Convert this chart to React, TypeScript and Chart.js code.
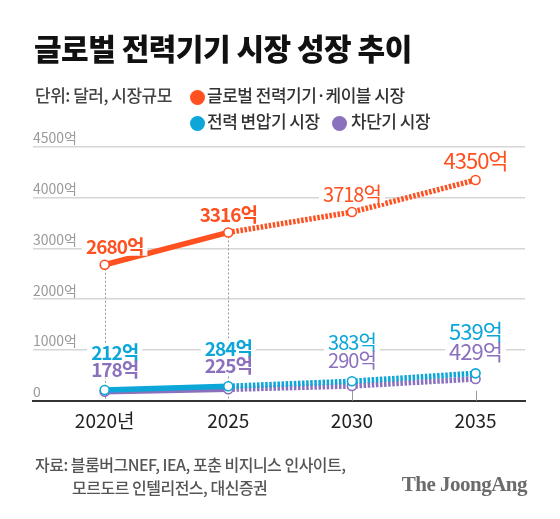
import React, { useEffect, useRef } from 'react';
import { Chart, registerables } from 'chart.js';

Chart.register(...registerables);

// ---- data ----
const years = [2020, 2025, 2030, 2035];
const yearLabels = ['2020년', '2025', '2030', '2035'];
const globalMarket = [2680, 3316, 3718, 4350];
const transformerMarket = [212, 284, 383, 539];
const breakerMarket = [178, 225, 290, 429];
const yTickValues = [0, 1000, 2000, 3000, 4000, 5000];
const yTickLabels = ['0', '1000억', '2000억', '3000억', '4000억', '4500억'];
const lastActualYear = 2025;
const seriesNames = ['글로벌 전력기기·케이블 시장', '전력 변압기 시장', '차단기 시장'];
const seriesColors = ['#ff5020', '#0ca6d8', '#8a70bd'];
const unitText = '단위: 달러, 시장규모';
const titleText = '글로벌 전력기기 시장 성장 추이';
const sourceLines = ['자료: 블룸버그NEF, IEA, 포춘 비지니스 인사이트,', '모르도르 인텔리전스, 대신증권'];
const logoText = 'The JoongAng';

const FONT = '"Noto Sans CJK KR", "Noto Sans", sans-serif';

function labelStyle(i: number) {
  if (years[i] <= lastActualYear) return { size: 19, weight: 700 };
  if (i === years.length - 1) return { size: 22, weight: 400 };
  return { size: 20, weight: 400 };
}

const overlayPlugin = {
  id: 'overlay',
  beforeDatasetsDraw(chart: any) {
    const { ctx, scales } = chart;
    const x = scales.x;
    const y = scales.y;
    const base = y.getPixelForValue(0);
    ctx.save();
    ctx.strokeStyle = '#9a9a9a';
    ctx.lineWidth = 1;
    years.forEach((yr, i) => {
      const px = Math.round(x.getPixelForValue(yr)) + 0.5;
      ctx.beginPath();
      if (yr <= lastActualYear) {
        ctx.setLineDash([2, 2]);
        ctx.moveTo(px, y.getPixelForValue(globalMarket[i]));
      } else {
        ctx.setLineDash([]);
        ctx.moveTo(px, base - 10);
      }
      ctx.lineTo(px, base);
      ctx.stroke();
    });
    ctx.restore();
  },
  afterDatasetsDraw(chart: any) {
    const { ctx, scales } = chart;
    const x = scales.x;
    const y = scales.y;
    type Lbl = { text: string; cx: number; cy: number; color: string; size: number; weight: number };
    const labels: Lbl[] = [];
    years.forEach((yr, i) => {
      const { size, weight } = labelStyle(i);
      const shift = i === 0 ? 10 : 0;
      const px = x.getPixelForValue(yr) + shift;
      const gY = y.getPixelForValue(globalMarket[i]);
      labels.push({ text: `${globalMarket[i]}억`, cx: px, cy: gY - 8 - size * 0.5, color: seriesColors[0], size, weight });
      const tY = y.getPixelForValue(transformerMarket[i]);
      const pCy = tY - 9 - size * 0.6;
      const tCy = pCy - size * 0.88;
      labels.push({ text: `${transformerMarket[i]}억`, cx: px, cy: tCy, color: seriesColors[1], size, weight });
      labels.push({ text: `${breakerMarket[i]}억`, cx: px, cy: pCy, color: seriesColors[2], size, weight });
    });
    ctx.save();
    (ctx as any).letterSpacing = '-1px';
    ctx.textAlign = 'center';
    ctx.textBaseline = 'middle';
    labels.forEach((l) => {
      ctx.font = `${l.weight} ${l.size}px ${FONT}`;
      const w = ctx.measureText(l.text).width;
      ctx.fillStyle = '#ffffff';
      ctx.fillRect(l.cx - w / 2 - 4, l.cy - l.size * 0.45, w + 8, l.size * 0.9);
    });
    labels.forEach((l) => {
      ctx.font = `${l.weight} ${l.size}px ${FONT}`;
      ctx.fillStyle = l.color;
      ctx.fillText(l.text, l.cx, l.cy);
    });
    ctx.restore();
  },
};

function makeDataset(values: number[], color: string, name: string) {
  return {
    label: name,
    data: years.map((yr, i) => ({ x: yr, y: values[i] })),
    borderColor: color,
    backgroundColor: color,
    borderWidth: 5.5,
    borderCapStyle: 'butt' as const,
    pointRadius: 4.5,
    pointBorderWidth: 1.6,
    pointBackgroundColor: '#ffffff',
    pointBorderColor: color,
    tension: 0,
    segment: {
      borderDash: (c: any) => (c.p0.parsed.x >= lastActualYear ? [2.5, 1.6] : undefined),
    },
  };
}

export default function App() {
  const canvasRef = useRef<HTMLCanvasElement | null>(null);

  useEffect(() => {
    if (!canvasRef.current) return;
    const chart = new Chart(canvasRef.current, {
      type: 'line',
      data: {
        datasets: [
          makeDataset(globalMarket, seriesColors[0], seriesNames[0]),
          makeDataset(transformerMarket, seriesColors[1], seriesNames[1]),
          makeDataset(breakerMarket, seriesColors[2], seriesNames[2]),
        ],
      },
      options: {
        animation: false,
        responsive: false,
        layout: { padding: { left: 33, right: 35, top: 147, bottom: 78.3 } },
        plugins: { legend: { display: false }, tooltip: { enabled: false } },
        scales: {
          x: {
            type: 'linear',
            min: 2017.1,
            max: 2037.0,
            afterBuildTicks: (s: any) => {
              s.ticks = years.map((v) => ({ value: v }));
            },
            afterFit: (s: any) => {
              s.height = 40;
            },
            grid: { display: false, drawTicks: false },
            border: { display: true, color: '#333333', width: 2 },
            ticks: {
              autoSkip: false,
              maxRotation: 0,
              padding: 9,
              color: '#222222',
              font: { family: FONT, size: 19, weight: 400 as any },
              callback: (v: any) => yearLabels[years.indexOf(Number(v))] ?? '',
            },
          },
          y: {
            type: 'linear',
            min: 0,
            max: 5000,
            afterBuildTicks: (s: any) => {
              s.ticks = yTickValues.map((v) => ({ value: v }));
            },
            afterFit: (s: any) => {
              s.width = 0;
            },
            grid: {
              drawTicks: false,
              lineWidth: 1.5,
              color: (c: any) => (c.tick && c.tick.value === 0 ? 'rgba(0,0,0,0)' : '#d6d6d6'),
            },
            border: { display: false },
            ticks: {
              mirror: true,
              padding: 0,
              labelOffset: -9,
              color: '#9a9a9a',
              font: { family: FONT, size: 14, weight: 400 as any },
              callback: (v: any) => yTickLabels[yTickValues.indexOf(Number(v))] ?? '',
            },
          },
        },
      },
      plugins: [overlayPlugin],
    });
    return () => chart.destroy();
  }, []);

  const abs = (o: React.CSSProperties): React.CSSProperties => ({ position: 'absolute', whiteSpace: 'nowrap', ...o });
  const dot = (left: number, top: number, color: string) => (
    <div style={abs({ left, top, width: 15, height: 15, borderRadius: '50%', background: color })} />
  );
  const legendText: React.CSSProperties = { fontSize: 17, fontWeight: 500, lineHeight: '20px', color: '#333', letterSpacing: -0.5 };

  return (
    <div
      style={{
        position: 'absolute',
        left: 0,
        top: 0,
        width: 560,
        height: 519,
        background: '#ffffff',
        overflow: 'hidden',
        fontFamily: FONT,
      }}
    >
      <canvas ref={canvasRef} width={560} height={519} style={{ position: 'absolute', left: 0, top: 0 }} />
      <div style={abs({ left: 34, top: 31, fontSize: 30, fontWeight: 900, lineHeight: '32px', letterSpacing: -0.5, color: '#111' })}>
        {titleText}
      </div>
      <div style={abs({ left: 35, top: 85, ...legendText, color: '#444' })}>{unitText}</div>
      {dot(190, 89.5, seriesColors[0])}
      <div style={abs({ left: 207, top: 85, ...legendText })}>{seriesNames[0]}</div>
      {dot(190, 115.5, seriesColors[1])}
      <div style={abs({ left: 207, top: 111, ...legendText })}>{seriesNames[1]}</div>
      {dot(332, 115.5, seriesColors[2])}
      <div style={abs({ left: 351, top: 111, ...legendText })}>{seriesNames[2]}</div>
      <div style={abs({ left: 35, top: 454, fontSize: 16, fontWeight: 500, lineHeight: '20px', color: '#555', letterSpacing: -0.5 })}>
        {sourceLines[0]}
      </div>
      <div style={abs({ left: 72, top: 477, fontSize: 16, fontWeight: 500, lineHeight: '20px', color: '#555', letterSpacing: -0.5 })}>
        {sourceLines[1]}
      </div>
      <div
        style={abs({
          right: 33,
          top: 472,
          fontSize: 21,
          fontWeight: 700,
          lineHeight: '24px',
          color: '#6b6b6b',
          letterSpacing: -0.5,
          fontFamily: '"Liberation Serif", "DejaVu Serif", serif',
        })}
      >
        {logoText}
      </div>
    </div>
  );
}
